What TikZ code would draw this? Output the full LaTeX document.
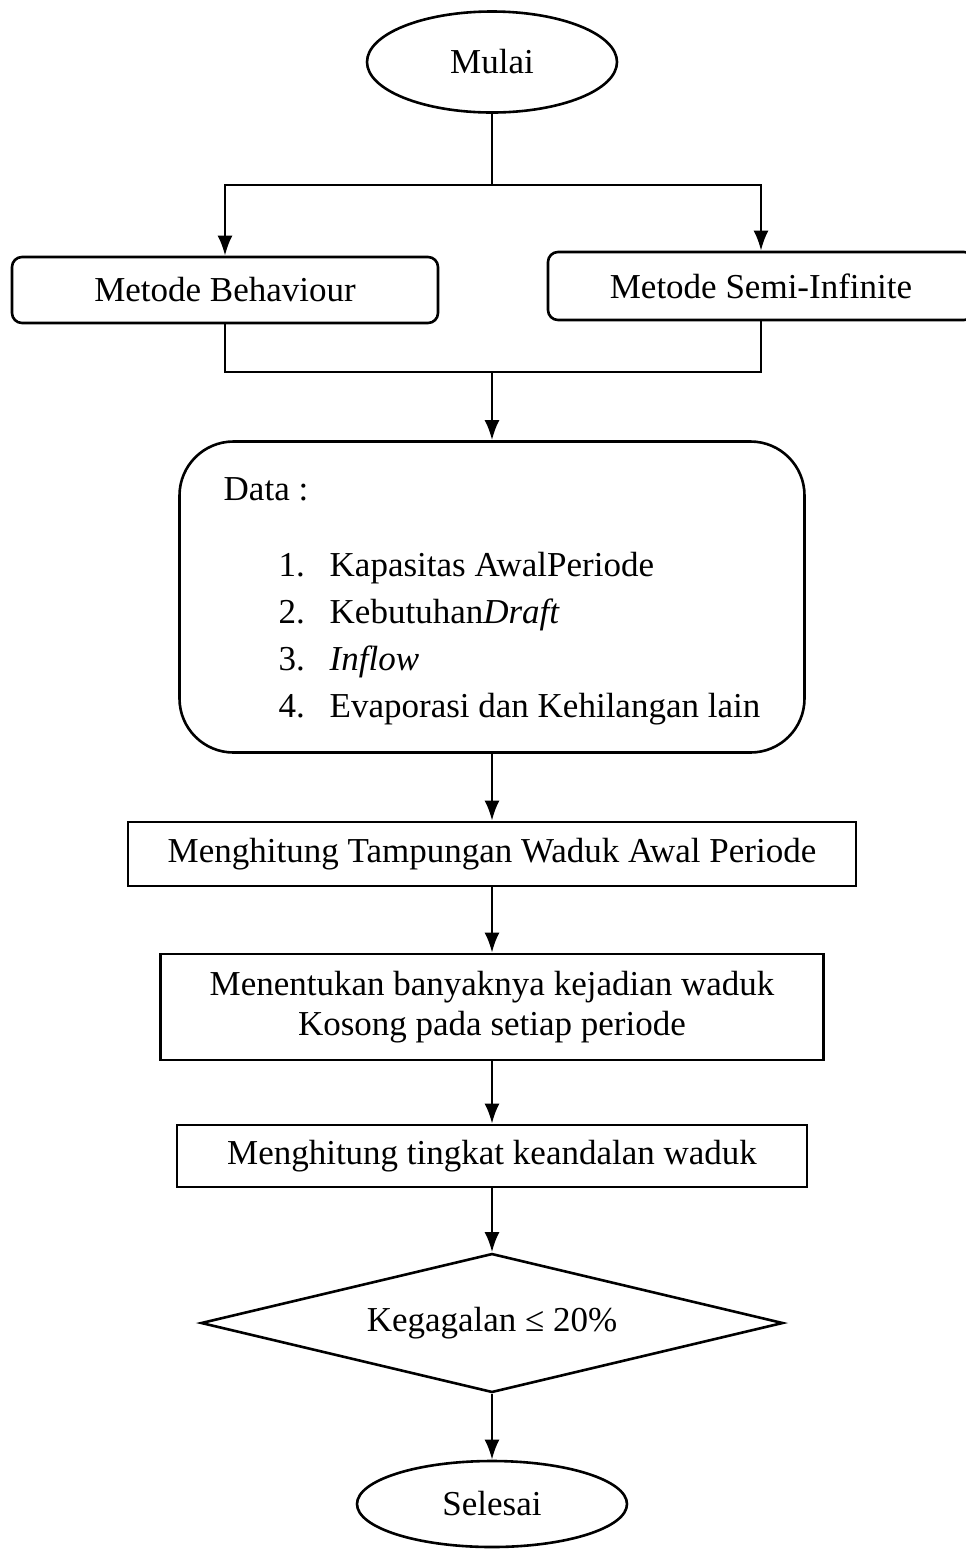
\documentclass[tikz,border=0pt]{standalone}
\usepackage{fontspec}
\setmainfont{Liberation Serif}
\usetikzlibrary{arrows.meta, positioning, shapes.geometric}
\tikzset{>= {Latex[length = 10pt, width = 7.5pt]},
         every node/.style = {font = \fontsize{17.5}{20}\selectfont},
         line/.style = {line width = 1.3pt},
         terminal/.style = {ellipse, draw, line, inner sep = 0pt},
         method/.style = {draw, line, rounded corners = 5pt,
                          minimum width = 213pt, minimum height = 33pt},
         process/.style = {rectangle, draw, line, align = center, inner sep = 0pt},
         databox/.style = {draw, line, rounded corners = 27pt, align = left,
                           minimum width = 312.5pt, minimum height = 155.5pt,
                           font = \fontsize{17.5}{23.5}\selectfont},
         decision/.style = {diamond, draw, line, inner sep = 0pt, aspect = 4.19,
                            minimum width = 291pt, minimum height = 69.5pt}}
\newcommand{\dataitem}[2]{\hspace*{27.5pt}\makebox[25.5pt][l]{#1}#2}

\begin{document}
\begin{tikzpicture}[x = 0.5pt, y = -0.5pt]
  \useasboundingbox (0,0) rectangle (965,1549);

  \node[terminal, minimum width = 125pt, minimum height = 50.5pt]  (mulai) at (492,62)   {Mulai};
  \node[method]                                                  (behav) at (225,290)  {Metode Behaviour};
  \node[method, minimum height = 34pt]                           (semi)  at (761,286)  {Metode Semi-Infinite};
  \node[databox]                                                 (data)  at (492,597)
       {\rule{0pt}{16pt}Data :\\[14.5pt]
        \dataitem{1.}{Kapasitas AwalPeriode}\\
        \dataitem{2.}{Kebutuhan\textit{Draft}}\\
        \dataitem{3.}{\textit{Inflow}}\\
        \dataitem{4.}{Evaporasi dan Kehilangan lain}};
  \node[process, minimum width = 364pt, minimum height = 32pt]   (tamp)  at (492,854)  {Menghitung Tampungan Waduk Awal Periode};
  \node[process, minimum width = 331.5pt, minimum height = 53pt] (kosong) at (492,1007)
       {Menentukan banyaknya kejadian waduk\\Kosong pada setiap periode};
  \node[process, minimum width = 315pt, minimum height = 31pt]   (andal) at (492,1156) {Menghitung tingkat keandalan waduk};
  \node[decision]                                                (gagal) at (492,1323) {Kegagalan ≤ 20\%};
  \node[terminal, minimum width = 135pt, minimum height = 43pt]  (selesai) at (492,1504) {Selesai};

  \coordinate (split) at (492,185);
  \coordinate (merge) at (492,372);

  % cabang metode
  \draw[line]     (mulai)       --  (split);
  \draw[line, ->] (split)       -|  (behav);
  \draw[line, ->] (split)       -|  (semi);
  \draw[line]     (behav.south) |-  (merge) -| (semi.south);
  \draw[line, ->] (merge)       --  (data);

  % alur perhitungan
  \draw[line, ->] (data)        --  (tamp);
  \draw[line, ->] (tamp)        --  (kosong);
  \draw[line, ->] (kosong)      --  (andal);
  \draw[line, ->] (andal)       --  (gagal);
  \draw[line, ->] (gagal)       --  (selesai);
\end{tikzpicture}
\end{document}
